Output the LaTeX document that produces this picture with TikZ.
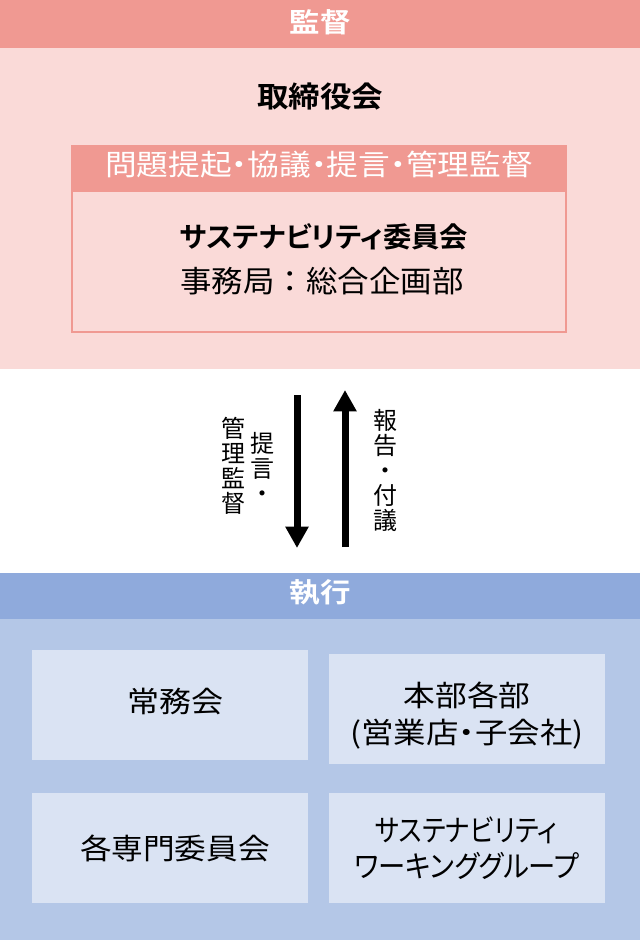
\documentclass[tikz,border=0pt]{standalone}
\usepackage{fontspec}
\usepackage{graphicx}
\setmainfont{Noto Sans CJK JP}[BoldFont={Noto Sans CJK JP Bold}]
\newfontfamily\pfont{Noto Sans CJK JP}[BoldFont={Noto Sans CJK JP Bold},RawFeature=+palt]
\usetikzlibrary{arrows.meta}
\definecolor{pkhead}{HTML}{F09992}
\definecolor{pkpanel}{HTML}{FADAD8}
\definecolor{blhead}{HTML}{8FAADC}
\definecolor{blpanel}{HTML}{B4C7E7}
\definecolor{blbox}{HTML}{DAE3F3}
\newdimen\pxu \pxu=0.75pt
\newcommand{\tw}[2]{\resizebox{#1\pxu}{\height}{#2}}
\newcommand{\fs}[1]{\fontsize{#1\pxu}{#1\pxu}\selectfont}
\begin{document}
\begin{tikzpicture}[x=0.75pt,y=-0.75pt,
  lbl/.style={inner sep=0pt,outer sep=0pt,anchor=center},
  vlbl/.style={inner sep=0pt,outer sep=0pt,anchor=north,align=center,font=\fontsize{18pt}{18.75pt}\selectfont},
  bigarrow/.style={line width=5.25pt,-{Triangle[width=16.5pt,length=16pt]}},
  execbox/.style={fill=blbox,draw=none}]
\useasboundingbox (0,0) rectangle (640,940);
% supervision area
\fill[pkhead] (0,0) rectangle (640,48);
\fill[pkpanel] (0,48) rectangle (640,369);
\node[lbl,text=white] (kansa) at (320,22) {\bfseries\fs{27}\tw{61}{監督}};
\node[lbl] (board) at (320,97) {\bfseries\fs{29}\tw{126}{取締役会}};
% committee box
\draw[pkhead,line width=1.5pt,fill=pkpanel] (72,146) rectangle (566,332);
\fill[pkhead] (71,145) rectangle (567,192);
\node[lbl,text=white] (band) at (319,165) {\pfont\fs{29}\tw{428}{問題提起・協議・提言・管理監督}};
\node[lbl] (sus) at (324,237) {\pfont\bfseries\fs{28}\tw{288}{サステナビリティ委員会}};
\node[lbl] (office) at (322,281) {\fs{30}\tw{283}{事務局：総合企画部}};
% arrows
\coordinate (downS) at (297,395);
\coordinate (downE) at (297,548);
\coordinate (upS) at (345,547);
\coordinate (upE) at (345,390);
\draw[bigarrow] (downS) -- (downE);
\draw[bigarrow] (upS) -- (upE);
\node[vlbl] (lblA) at (233,417) {管\\理\\監\\督};
\node[vlbl] (lblB) at (262,432) {提\\言\\・};
\node[vlbl] (lblC) at (385,409) {報\\告\\・\\付\\議};
% execution area
\fill[blhead] (0,573) rectangle (640,619);
\fill[blpanel] (0,619) rectangle (640,940);
\node[lbl,text=white] (shikko) at (320,592) {\bfseries\fs{27}\tw{61}{執行}};
\fill[execbox] (32,650) rectangle (308,760);
\fill[execbox] (329,654) rectangle (605,764);
\fill[execbox] (32,793) rectangle (308,903);
\fill[execbox] (329,793) rectangle (605,903);
\node[lbl] (jomu) at (175,701) {\fs{29}\tw{96}{常務会}};
\node[lbl] (honbu1) at (467,695) {\fs{29}\tw{127}{本部各部}};
\node[lbl] (honbu2) at (467,734) {\pfont\fs{29}\tw{233}{(営業店・子会社)}};
\node[lbl] (senmon) at (175,848) {\fs{29}\tw{190}{各専門委員会}};
\node[lbl] (wg1) at (466,830) {\pfont\fs{30}\tw{182}{サステナビリティ}};
\node[lbl] (wg2) at (467,866) {\pfont\fs{30}\tw{225}{ワーキンググループ}};
\end{tikzpicture}
\end{document}
